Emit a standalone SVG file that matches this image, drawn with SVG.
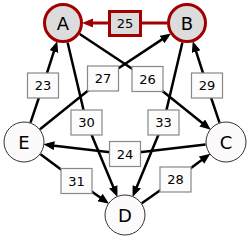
<svg xmlns="http://www.w3.org/2000/svg" width="250" height="241" viewBox="0 0 250 241">
<defs>
<marker id="ah" markerUnits="userSpaceOnUse" markerWidth="12" markerHeight="10" refX="2" refY="4.5" orient="auto" viewBox="0 0 12 10">
<path d="M0,0 L11,4.5 L0,9 z" fill="#000"/>
</marker>
<marker id="ahr" markerUnits="userSpaceOnUse" markerWidth="12" markerHeight="10" refX="2" refY="4.5" orient="auto" viewBox="0 0 12 10">
<path d="M0,0 L11,4.5 L0,9 z" fill="#a00000"/>
</marker>
</defs>
<style>
.e{fill:none;stroke:#000;stroke-width:2.5;marker-end:url(#ah)}
.er{fill:none;stroke:#a00000;stroke-width:3;marker-end:url(#ahr)}
.lb{fill:#fdfcfc;stroke:#888;stroke-width:1.2}
.lbr{fill:#dcdcdc;stroke:#a00000;stroke-width:3}
.lt{font-family:"DejaVu Sans",sans-serif;font-size:13px;text-anchor:middle;fill:#000}
.n{fill:#fcfafa;stroke:#333;stroke-width:1}
.nr{fill:#dcdcdc;stroke:#a00000;stroke-width:3}
.nt{font-family:"DejaVu Sans",sans-serif;font-size:18px;text-anchor:middle;fill:#000}
</style>
<g id="connectors">
<path class="er" d="M167,23 L91,23"/>
<path class="e" d="M30.5,122.6 L43,85.5 L54.5,49.7"/>
<path class="e" d="M40,129.2 L103,78.5 L163.6,38.4"/>
<path class="e" d="M79.7,34 L147.5,79 L203.8,124.2"/>
<path class="e" d="M219.5,122.6 L207,85.5 L195.5,49.7"/>
<path class="e" d="M67.6,42.5 L86.5,122.5 L114,188.7"/>
<path class="e" d="M182.4,42.5 L163.5,122.5 L136,188.7"/>
<path class="e" d="M205.6,144.4 L125,154 L52.3,145.4"/>
<path class="e" d="M40.5,154.2 L76.5,181 L101.7,198.6"/>
<path class="e" d="M141.8,203.2 L175.5,179.5 L203.1,159"/>
</g>
<g id="labels">
<g id="l25"><rect class="lbr" x="109.5" y="11.5" width="31" height="24"/><text class="lt" x="125" y="28">25</text></g>
<g id="l23"><rect class="lb" x="27.5" y="73" width="31" height="25"/><text class="lt" x="43" y="90">23</text></g>
<g id="l27"><rect class="lb" x="87.5" y="66" width="31" height="25"/><text class="lt" x="103" y="83">27</text></g>
<g id="l26"><rect class="lb" x="132" y="66.5" width="31" height="25"/><text class="lt" x="147.5" y="83.5">26</text></g>
<g id="l29"><rect class="lb" x="191.5" y="73" width="31" height="25"/><text class="lt" x="207" y="90">29</text></g>
<g id="l30"><rect class="lb" x="71" y="110" width="31" height="25"/><text class="lt" x="86.5" y="127">30</text></g>
<g id="l33"><rect class="lb" x="148" y="110" width="31" height="25"/><text class="lt" x="163.5" y="127">33</text></g>
<g id="l24"><rect class="lb" x="109.5" y="141.5" width="31" height="25"/><text class="lt" x="125" y="158.5">24</text></g>
<g id="l31"><rect class="lb" x="61" y="168.5" width="31" height="25"/><text class="lt" x="76.5" y="185.5">31</text></g>
<g id="l28"><rect class="lb" x="160" y="167" width="31" height="25"/><text class="lt" x="175.5" y="184">28</text></g>
</g>
<g id="A"><circle class="nr" cx="63" cy="23" r="18.5"/><text class="nt" x="63" y="29.5">A</text></g>
<g id="B"><circle class="nr" cx="187" cy="23" r="18.5"/><text class="nt" x="187" y="29.5">B</text></g>
<g id="C"><circle class="n" cx="226" cy="142" r="20"/><text class="nt" x="226" y="148.5">C</text></g>
<g id="D"><circle class="n" cx="125" cy="215" r="20"/><text class="nt" x="125" y="221.5">D</text></g>
<g id="E"><circle class="n" cx="24" cy="142" r="20"/><text class="nt" x="24" y="148.5">E</text></g>
</svg>
